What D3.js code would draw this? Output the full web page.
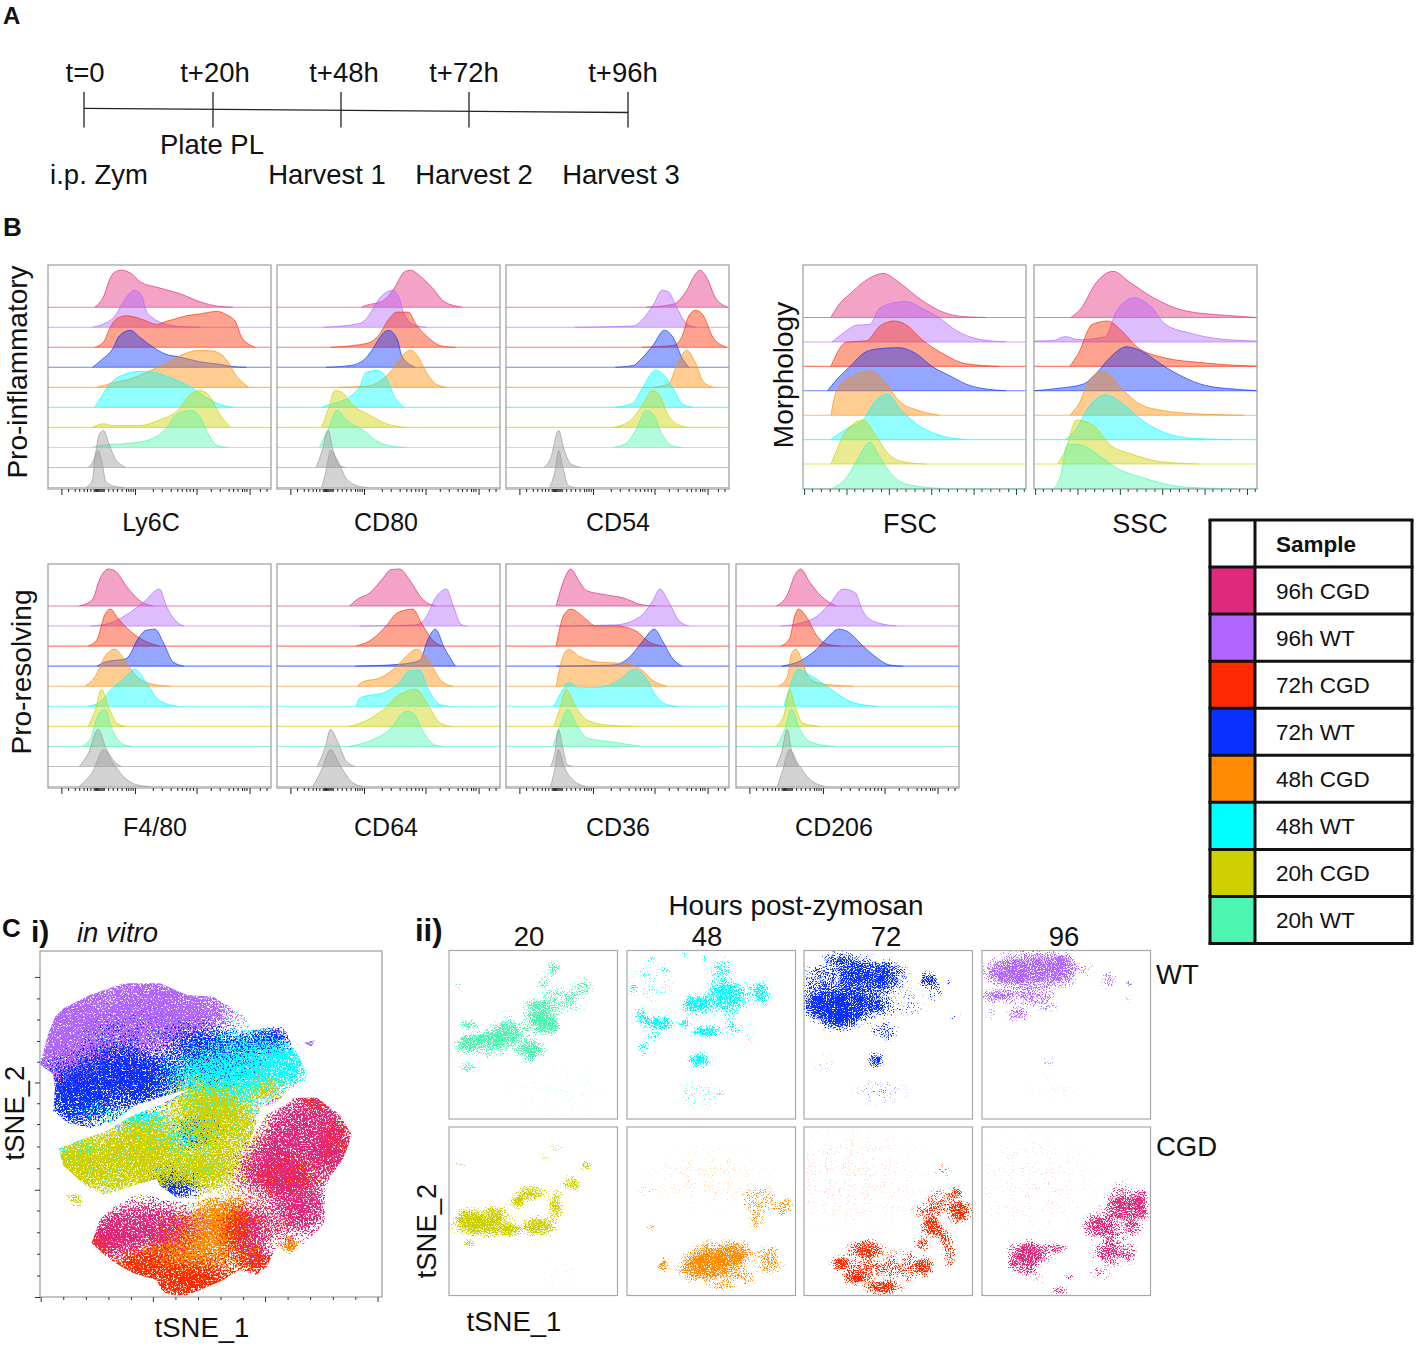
<!DOCTYPE html>
<html>
<head>
<meta charset="utf-8">
<title>Figure</title>
<script src="https://cdn.jsdelivr.net/npm/d3@7"></script>
<style>
  html, body { margin: 0; padding: 0; background: #fff; }
  text { font-family: "Liberation Sans", Arial, sans-serif; fill: #111; }
</style>
</head>
<body>
<div id="chart-area"></div>
<script>
// samples, top to bottom in the histograms
var samples = ["96h CGD", "96h WT", "72h CGD", "72h WT", "48h CGD", "48h WT", "20h CGD", "20h WT"];
var sampleColors = ["#e0297c", "#b266ff", "#ff2a00", "#0a30ff", "#ff8c00", "#00ffff", "#cfd000", "#4cf5b0"];
var controlColor = "#9a9a9a";

// timeline
var timeHours = [0, 20, 48, 72, 96];
var timeLabels = ["t=0", "t+20h", "t+48h", "t+72h", "t+96h"];

// axis ticks, in % of the panel width
var flowMajor = [6, 39, 66.6, 90.4];
var flowMinor = [9, 12, 14, 16, 17.5, 19, 20.5, 21, 21.5, 22, 22.5, 23, 23.5, 24, 24.5, 25, 27, 29, 31, 33, 35, 36, 37, 38,
    47, 51, 55, 58, 60, 62, 63.5, 65, 73, 77, 81, 83, 85, 87, 88, 89, 95, 98];
var morphMajor = [0.5, 19.5, 38.5, 57.5, 76.5, 95.5];
var morphMinor = [4, 8, 12, 16, 23, 27, 31, 35, 42, 46, 50, 54, 61, 65, 69, 73, 80, 84, 88, 92, 99];
var mapXMajor = [0.2, 33, 65.8, 98.7];
var mapXMinor = [6.8, 13.4, 20, 26.6, 39.6, 46.2, 52.8, 59.4, 72.4, 79, 85.6, 92.2];
var mapYMajor = [7.5, 38, 69, 100];
var mapYMinor = [13.7, 19.8, 26, 32, 44, 50, 56.5, 62.8, 75, 81.3, 87.5, 93.8];

// histograms: [channel %, count as % of mode], one list per sample plus two controls
var ly6c = [
    [[21,0],[25,30],[28,80],[30,95],[33,100],[38,88],[41,70],[50,52],[59,37],[68,15],[77,2],[83,0]],
    [[20,0],[26,12],[30,30],[33,60],[36,88],[39,100],[42,85],[44,45],[47,25],[52,10],[59,2],[68,0]],
    [[21,0],[25,15],[28,55],[31,78],[35,85],[41,78],[49,62],[53,70],[58,78],[62,85],[68,90],[76,97],[80,88],[84,70],[87,25],[93,0]],
    [[20,0],[24,20],[29,50],[32,85],[37,100],[41,82],[47,55],[53,35],[59,28],[68,15],[77,8],[83,2],[89,0]],
    [[22,0],[29,12],[38,25],[44,40],[53,65],[59,85],[68,100],[74,98],[80,75],[84,35],[90,0]],
    [[21,0],[24,30],[28,65],[36,92],[41,97],[47,95],[55,80],[64,55],[70,30],[77,8],[83,0]],
    [[20,0],[25,10],[29,5],[41,5],[50,20],[58,45],[64,90],[68,100],[72,88],[77,35],[82,0]],
    [[20,0],[23,5],[29,8],[38,12],[46,22],[52,45],[58,90],[64,100],[68,85],[72,35],[76,5],[81,0]],
    [[18,0],[21,30],[23,90],[25,100],[27,70],[30,25],[35,0]],
    [[17,0],[20,20],[21,80],[22.5,100],[24,75],[26,15],[30,3],[34,0]]
];
var cd80 = [
    [[38,0],[40,5],[47,15],[53,55],[57,95],[60,100],[64,85],[70,50],[75,15],[83,0]],
    [[21,0],[37,10],[41,30],[45,70],[47,85],[52,100],[55,75],[57,35],[62,5],[67,0]],
    [[24,0],[40,10],[46,35],[50,75],[54,95],[59,95],[62,65],[68,25],[74,3],[80,0]],
    [[22,0],[33,5],[39,20],[43,50],[46,80],[50,100],[54,75],[56,30],[62,0]],
    [[28,0],[40,3],[47,20],[52,50],[56,85],[60,100],[63,85],[67,40],[71,10],[76,0]],
    [[20,0],[25,10],[33,30],[37,55],[40,95],[45,100],[49,80],[53,25],[57,0]],
    [[20,0],[23,50],[26,100],[29,95],[34,60],[41,35],[49,10],[58,0]],
    [[19,0],[23,50],[27,100],[31,75],[39,45],[44,20],[52,3],[58,0]],
    [[17.5,0],[20,40],[23,100],[25,50],[28,5],[31,0]],
    [[20,0],[22,45],[24,100],[27,75],[31,25],[37,3],[41,0]]
];
var cd54 = [
    [[63,0],[75,8],[81,45],[85,90],[87,100],[90,80],[94,25],[99.5,0]],
    [[31,0],[57,3],[61,20],[66,60],[70,100],[73,95],[76,60],[81,10],[85,0]],
    [[61,0],[75,5],[79,30],[82,85],[85,100],[88,90],[93,25],[99,0]],
    [[49,0],[57,5],[61,25],[66,60],[71,100],[75,80],[79,25],[82,0]],
    [[66,0],[73,10],[76,50],[81,100],[85,65],[88.5,15],[93,0]],
    [[49,0],[57,12],[61,50],[67,100],[70,92],[75,50],[79,10],[84,0]],
    [[48,0],[55,15],[60,50],[66,100],[69,85],[73,30],[79,3],[82,0]],
    [[48,0],[54,12],[58,45],[63,100],[66,90],[70,35],[75,3],[79,0]],
    [[17,0],[20,25],[23.6,100],[26,50],[29,10],[34,0]],
    [[19.5,0],[22,45],[23.6,100],[25.5,55],[28,5],[31,0]]
];
var fsc = [
    [[12.5,0],[15.5,25],[22,58],[30,90],[36,100],[43.5,78],[52.5,42],[61.5,15],[70,3],[82,0]],
    [[13,0],[18,20],[24,38],[30,40],[34,75],[40,88],[46,92],[54,75],[61,55],[69,25],[79,6],[91,0]],
    [[12.5,0],[19.5,55],[28.5,58],[34.5,92],[41,103],[46,95],[53.5,60],[63,28],[73,6],[88,0]],
    [[11,0],[15,25],[22,60],[27,85],[33,95],[43,98],[50.5,85],[58,55],[65.5,35],[76,10],[91,0]],
    [[12.5,0],[15,55],[21,85],[30.5,100],[36,80],[43.5,30],[51,12],[61,0]],
    [[12.5,0],[19.5,25],[27,45],[32,85],[38,103],[43.5,70],[51,35],[60,12],[73,0]],
    [[12.5,0],[15,30],[18,65],[27,100],[32,70],[38,25],[45,5],[55,0]],
    [[13,0],[19.5,25],[24,62],[30,105],[34.5,70],[40.5,28],[48,8],[63,0]]
];
var ssc = [
    [[16.5,0],[21,20],[28,80],[35.5,105],[43,80],[53.5,45],[68,15],[86,5],[100,0]],
    [[0,2],[8.5,3],[14,12],[20.5,5],[32,12],[37,70],[45,100],[52.5,80],[59,40],[70,20],[83,7],[100,2]],
    [[16,0],[20,30],[26,95],[33,103],[39.5,80],[46,45],[58,20],[76,8],[100,0]],
    [[0,0],[11.5,6],[22,15],[28,40],[34,75],[41.5,100],[49,88],[56.5,62],[65.5,35],[77,12],[92,3],[100,0]],
    [[16,0],[20,25],[25,80],[31,100],[38.5,65],[46,30],[56,12],[77,2],[94,0]],
    [[14,0],[19,25],[24,70],[32,102],[39,85],[49,42],[59,15],[71,3],[89,0]],
    [[10.5,0],[14,30],[19,100],[26,90],[35,40],[42.5,25],[56,6],[74,0]],
    [[9,0],[12,30],[15,100],[19.5,100],[30.5,70],[36.5,48],[48.5,25],[68,3],[86,0]]
];
var f480 = [
    [[14,0],[20,18],[23,70],[27,100],[30,95],[35,55],[41,15],[47,0]],
    [[19,0],[28,8],[35,30],[43,65],[50,100],[53,55],[58,10],[61,0]],
    [[18,0],[22,18],[25.5,85],[28,100],[31,78],[37,40],[43,15],[50,0]],
    [[22,0],[26,12],[35,20],[41,80],[44,97],[48,100],[52,60],[56,12],[61,0]],
    [[16.5,0],[21,25],[26,85],[30,100],[35,65],[41,20],[49,3],[55,0]],
    [[18,0],[23,10],[29,50],[34,75],[39,100],[44,65],[50,15],[58,0]],
    [[18,0],[21,40],[24,100],[27,55],[31,8],[35,0]],
    [[15,0],[19,20],[22.5,85],[25.5,100],[28.5,50],[33,8],[37,0]],
    [[14,0],[18,35],[22.5,100],[26,50],[30,12],[33,0]],
    [[14,0],[20,40],[25,100],[29,65],[35,20],[41,3],[46,0]]
];
var cd64 = [
    [[32.5,0],[36,18],[41.5,35],[47.5,75],[51,98],[55,100],[59.5,70],[65,20],[71,0]],
    [[37,0],[62,3],[67,25],[71,75],[76,100],[79,55],[82.5,5],[85,0]],
    [[35.5,0],[43,20],[49,55],[54,90],[61,100],[64.5,65],[70,15],[74,0]],
    [[35,0],[55,5],[64,15],[67.5,70],[71,100],[75,50],[80,0]],
    [[36,0],[38.5,12],[46,22],[52,45],[57,75],[62.5,100],[68,70],[74,12],[79,0]],
    [[35.5,0],[37,22],[49,40],[55,65],[59,95],[64,98],[67.5,50],[73,5],[77,0]],
    [[32.5,0],[41.5,20],[47.5,45],[53.5,80],[62.5,100],[67,65],[73,10],[78,0]],
    [[32.5,0],[43,18],[50.5,45],[58,95],[61,90],[66,35],[71,3],[74,0]],
    [[18,0],[21.5,50],[24,100],[27,70],[31,15],[35,0]],
    [[16,0],[20,45],[24,100],[28,60],[34,10],[38.5,0]]
];
var cd36 = [
    [[22.5,0],[26,70],[29,100],[33,65],[36,42],[45,30],[52.5,22],[61,3],[67,0]],
    [[22.5,0],[49,3],[60,25],[66,70],[69,100],[73,65],[77.5,15],[82,0]],
    [[22.5,0],[26,85],[29,100],[36,72],[40,55],[49,55],[58,42],[64,12],[70,0]],
    [[22.5,0],[48,3],[55,22],[61,65],[66.5,100],[70,70],[74.5,22],[79,0]],
    [[22.5,0],[25,70],[28,100],[33,80],[42,65],[52,62],[60,48],[66,15],[72,0]],
    [[21.5,0],[25,40],[28,65],[33,50],[43,52],[51,72],[57.5,100],[63,75],[67,30],[73,3],[77,0]],
    [[21.5,0],[24,45],[27,100],[31,55],[37,15],[46,3],[57,0]],
    [[21,0],[24.5,60],[27.5,100],[32,55],[36.5,22],[48,12],[60,0]],
    [[20,0],[22,40],[23.5,100],[25.5,50],[27.5,5],[30,0]],
    [[20,0],[22,50],[23.5,100],[26,55],[30.5,15],[36,0]]
];
var cd206 = [
    [[18,0],[23,30],[26.5,85],[29,100],[33,65],[38.5,25],[45,0]],
    [[20,0],[29,8],[36,25],[42,60],[48,100],[53.5,90],[56.5,45],[62,12],[72,0]],
    [[20,0],[24,20],[26.5,85],[28,100],[32,75],[36,30],[41,5],[47,0]],
    [[20.5,0],[29,15],[36,45],[41.5,80],[46,100],[50.5,92],[56,60],[62,28],[69,3],[75,0]],
    [[19,0],[23,25],[25,90],[27,100],[29.5,70],[32.5,25],[39,6],[52.5,0]],
    [[21.5,0],[24,50],[28,100],[33,85],[39,62],[45,35],[52.5,10],[63,0]],
    [[18,0],[21.5,30],[24,100],[26.5,55],[30,8],[37.5,0]],
    [[18,0],[21.5,40],[25,100],[28,55],[32.5,15],[39,3],[44,0]],
    [[18,0],[20.5,40],[23,100],[25,40],[28,0]],
    [[18.5,0],[21,45],[24,100],[28,60],[33,20],[40,0]]
];

// tSNE density hot spots per sample: [tSNE_1 %, tSNE_2 %, spread x, spread y, density]
var d20wt = [[11,55,5,4,.9],[24,53,7,4,.9],[35,49,7,6,.9],[55,40,7,7,.9],[48,59,6,5,.85],[60,45,4,3,.8],[65,29,8,5,.5],[79,22,4,4,.6],[62,11,2.5,3,.7],[55,18,3,3,.5],[12,44,4,2,.7],[11,69,3,2,.7],[6,21,1.5,1,.6],[50,32,4,2,.6],[75,31,5,4,.3],[24,60,8,3,.4],[65,82,20,10,.05]];
var d20cgd = [[20,58,12,5,.95],[12,54,5,4,.9],[27,51,5,3,.85],[49,39.5,6,3,.85],[41,44,3,3,.85],[53,59,7,4,.95],[63.5,47,3,6,.8],[73,33.5,4,3,.75],[81,23,2,2,.7],[12,69,2,1.5,.8],[7,22,2,1,.5],[56,18,2,1,.4],[63,12,2.5,2,.3],[65,87,8,6,.08],[36,61,5,3,.8]];
var d48wt = [[41,32,6,4,.9],[59,27,9,7,.85],[56,11.5,4,5,.6],[79,25,4,5,.8],[47,48,6,2.5,.9],[43,65,4,3,.9],[18,43,7,3,.8],[8.5,39,3,3,.7],[34,43,2.5,2,.8],[62,43,4,5,.3],[15,5,2,1,.6],[23,11.5,2,1,.6],[34,3,1,1,.7],[46,5,1,1.5,.7],[3.5,22,1.5,1.5,.6],[9.5,14,1.5,1,.5],[9.5,57,2,4,.5],[17,51,3,2,.5],[43,85,10,6,.2],[13,19,10,8,.2],[55,85,2,.7,.6],[69,49,6,6,.12]];
var d48cgd = [[53,80,10,8,.95],[41,83,7,6,.8],[65,75,6,5,.75],[84,79,6,5,.6],[69,89,5,3,.5],[57,94,5,2,.5],[21.5,82,2.5,3,.7],[79,43.5,7,5,.45],[93,47.5,3.5,4,.5],[77,55,3,3,.55],[14.5,60,2,1,.4],[11,38,4,2,.2],[49,30,25,12,.08]];
var d72wt = [[25,31,18,8,.95],[21,40,8,5,.95],[11,33,7,5,.9],[37,15,13,7,.75],[19,5.5,6,3,.55],[9,17,6,6,.6],[49,15,8,6,.6],[27,11,8,6,.55],[74,17.5,4,3,.85],[43,33,3,2,.8],[48,48,5,4,.45],[43,65,3,3,.85],[60.5,31,8,6,.2],[78,25,3,4,.4],[86,19,.8,.8,.9],[91,40,3,1.5,.3],[45,84,10,5,.15],[11,67,5,4,.08]];
var d72cgd = [[37,73,7,4,.9],[22,81,4,3,.9],[31,89,6,3,.85],[47,95,7,3,.9],[37,83,8,4,.5],[57,83,10,6,.5],[71,83,4,4,.8],[76,59,4,4,.95],[92,50,4.5,5,.9],[90,39.5,3,2.5,.7],[80,45,5,5,.55],[82,65,3,3,.7],[70,69,3,3,.7],[86,75,2.5,6,.55],[72,51,5,4,.45],[27,30,30,20,.06],[82,26,3,4,.2]];
var d96wt = [[30,11.5,17,8,.85],[14.5,13.5,9,5,.8],[46,11.5,7,6,.65],[8.5,27,6,3,.7],[26,27,10,4,.55],[21.5,38,4,3,.7],[48,5.5,3,2,.6],[38,31,5,4,.35],[75,17.5,4,3,.5],[87,19.5,1.5,.8,.9],[60,11.5,5,4,.2],[85,29,2,2,.2],[5,37,2,3,.3],[40,66,4,2,.2],[42,82,12,6,.04]];
var d96cgd = [[28,75,8,5,.95],[44,72,4,2,.7],[26,84,5,3,.7],[84,47.5,8,7,.85],[70,59,7,5,.85],[94,44,3,5,.7],[95,51,3,3,.7],[89.5,59,4,4,.65],[76,75,7,5,.7],[78,65,5,4,.55],[87.5,75,3,4,.5],[70,87,4,3,.3],[34,90,2,2,.45],[46,97,3,1.5,.6],[52,89,2,1,.5],[18,81,2,2,.8],[30,34,25,20,.05],[82,34,3,3,.2]];

// overview map, same form, one list per sample colour
var mapGreen = [[48,62,6,4,.7],[11,58,6,4,.4],[62,36,8,6,.3],[20,62,14,6,.3],[52,48,9,6,.3]];
var mapCyan = [[56.5,35.6,14,8,.8],[70,32,7,5,.85],[30,49,6,3,.9],[38,55,9,4,.7],[11,57,5,3,.5],[51,47,8,6,.5],[50,38,10,5,.55],[22,64,10,5,.25],[60,23,6,5,.3],[16,47,5,3,.4]];
var mapPurple = [[23.4,19,19.5,9.8,.95],[8,24,9,9,.95],[37,16,10,8,.9],[8,34,8,5,.9],[48,17,6,5,.6],[78.5,26.6,3,1.5,.95],[68,24,4,2,.5],[20,34,12,7,.6],[56,18,5,4,.35]];
var mapBlue = [[17.5,39.5,14,8,.8],[11,43,6,6,.85],[32,37.5,10,5,.8],[47,30,9,7,.8],[67,26,5,3,.9],[55,31,8,6,.6],[39,67,6,4,.95],[46,52,5,4,.8],[25,33,8,5,.55],[62,29,6,4,.5],[30,24,10,6,.2],[20,26,8,5,.2]];
var mapYellow = [[20.5,61,14,8,.92],[10,62,5,4,.85],[30,55,8,5,.85],[47,46,10,7,.8],[55,51,8,7,.85],[49,63,8,6,.9],[66,40,4,3,.7],[10,72,2,1.5,.6],[35,62,8,5,.7]];
var mapOrange = [[47,84,11,8,.9],[37,88,7,4,.75],[53,77.5,6,5,.85],[73,85,2,2,.9],[62,88,3,3,.7],[60,72,5,5,.4]];
var mapRed = [[86,55,4,6,.85],[71,65,7,5,.9],[43,96,10,4,.95],[29,91,7,4,.9],[17.5,85,4,3,.9],[58.5,80.5,5,6,.8],[64,90,5,3,.8],[81,43,5,3,.8],[38,85,6,6,.4],[80,62,6,5,.35],[70,78,5,5,.4],[51,92,8,4,.5]];
var mapMagenta = [[78,51,11,8,.9],[66,63,8,6,.85],[76,73,7,8,.9],[30,79.5,13,6,.9],[22,83,5,4,.85],[63,82,5,8,.75],[84,60,5,5,.75],[70,57,6,4,.6]];

// overview map outlines, in axis %
var lobeUpper = [[0,32.7],[2.4,23.9],[4.4,19],[6.8,16.6],[14.6,12.7],[24.4,9.3],[35.1,9.3],[43,12.7],[50.7,13.2],[59.5,18.5],[61.9,22.9],[71.2,21.4],[74.1,27.8],[76.5,31.7],[78.5,37.1],[72,40.5],[69.7,43.4],[64.3,45.4],[62.4,52.2],[59.9,59],[55.5,66.8],[50.7,69.8],[46.8,71.7],[39.9,71.2],[35.1,67.8],[34.1,65.8],[27.3,67.8],[18.5,70.7],[12.7,67.3],[6.8,62],[5.4,57.1],[12.7,54.3],[19.5,52],[27.3,47.5],[35.1,44.6],[44.3,39.7],[34.1,42.6],[27.3,44.9],[21.4,49.5],[14.6,51.2],[8.3,49.8],[3.9,46.3],[4.4,39.5],[3.9,35.6]];
var lobeLower = [[74.1,42.4],[80.9,42.4],[87.7,47.3],[91.2,53.2],[88.7,60],[84.8,65.4],[83.3,69.8],[83.3,78.5],[79.9,82.4],[73.1,87.8],[69.2,85.4],[66.3,91.2],[63.4,93.7],[58.5,92.2],[53.6,95.1],[46.8,98],[41.9,99.8],[36.1,99],[34.1,95.1],[27.3,93.2],[20.5,89.3],[15.1,84.4],[17.5,77.6],[21.4,74.1],[29.2,69.8],[35.1,71.7],[42.9,72.7],[46.8,72.2],[51.7,69.8],[56.5,64.9],[60.4,58],[63.4,51.2],[66.3,47.3],[72.1,44.4]];
var patchLower = [[7.3,70.2],[11.7,70.2],[13.6,73.7],[10.2,74.4]];
var patchPurple = [[77,26.5],[80.4,25.8],[79.4,27.6]];

// legend rows are drawn from samples/sampleColors
var margin = {top: 0, right: 0, bottom: 0, left: 0};
var width = 1417;
var height = 1346;

var svg = d3.select("#chart-area")
    .append("svg")
    .attr("width", width + margin.left + margin.right)
    .attr("height", height + margin.top + margin.bottom)
    .style("display", "block");

var defs = svg.append("defs");

var g = svg.append("g")
    .attr("transform", "translate(" + margin.left + ", " + margin.top + ")");

function label(txt, x, y, size, opts) {
    opts = opts || {};
    var t = g.append("text")
        .attr("x", x)
        .attr("y", y)
        .attr("font-size", size + "px")
        .attr("text-anchor", opts.anchor || "middle")
        .attr("font-weight", opts.bold ? "bold" : "normal")
        .attr("font-style", opts.italic ? "italic" : "normal")
        .text(txt);
    if (opts.rotate) t.attr("transform", "rotate(-90 " + x + " " + y + ")");
    return t;
}

/* ---------- A timeline ---------- */
var timeX = d3.scaleLinear().domain(timeHours).range([84, 213, 341, 469, 628]);
var timeY = d3.scaleLinear().domain([0, 96]).range([108.3, 112.5]);

g.append("line")
    .attr("x1", timeX(0)).attr("x2", timeX(96))
    .attr("y1", timeY(0)).attr("y2", timeY(96))
    .attr("stroke", "#222").attr("stroke-width", 1.3);

g.selectAll(".time-tick").data(timeHours).enter().append("line")
    .attr("class", "time-tick")
    .attr("x1", function(d) { return timeX(d); })
    .attr("x2", function(d) { return timeX(d); })
    .attr("y1", 92).attr("y2", 127.5)
    .attr("stroke", "#222").attr("stroke-width", 1.3);

var timeLabelX = [85, 215, 344, 464, 623];
timeLabels.forEach(function(d, i) { label(d, timeLabelX[i], 82, 27.5); });

label("A", 3, 24, 24, {anchor: "start", bold: true});
label("Plate PL", 212, 154, 27.5);
label("i.p. Zym", 99, 184, 27.5);
label("Harvest 1", 327, 184, 27.5);
label("Harvest 2", 474, 184, 27.5);
label("Harvest 3", 621, 184, 27.5);
label("B", 3, 236, 26, {anchor: "start", bold: true});

/* ---------- B histograms ---------- */
function ridgePanel(rows, colors, box, firstBase, lastBase, modeHeight, major, minor, tickColor) {
    var p = g.append("g").attr("transform", "translate(" + box.x + "," + box.y + ")");
    var x = d3.scaleLinear().domain([0, 100]).range([0, box.w]);
    var base = d3.scaleLinear().domain([0, rows.length - 1]).range([firstBase, lastBase]);
    var y = d3.scaleLinear().domain([0, 100]).range([0, -modeHeight]);

    var area = d3.area()
        .x(function(d) { return x(d[0]); })
        .y0(0)
        .y1(function(d) { return y(d[1]); })
        .curve(d3.curveMonotoneX);
    var line = area.lineY1();

    var ridge = p.selectAll(".ridge").data(rows).enter().append("g")
        .attr("class", "ridge")
        .attr("transform", function(d, i) { return "translate(0," + base(i) + ")"; });

    ridge.append("path")
        .attr("d", area)
        .attr("fill", function(d, i) { return colors[i]; })
        .attr("fill-opacity", 0.43);
    ridge.append("path")
        .attr("d", line)
        .attr("fill", "none")
        .attr("stroke", function(d, i) { return colors[i]; })
        .attr("stroke-opacity", 0.75)
        .attr("stroke-width", 0.9);
    ridge.append("line")
        .attr("x1", 0).attr("x2", box.w)
        .attr("stroke", function(d, i) { return colors[i]; })
        .attr("stroke-opacity", 0.6)
        .attr("stroke-width", 1.1);

    p.append("rect")
        .attr("width", box.w).attr("height", box.h)
        .attr("fill", "none")
        .attr("stroke", "#9c9c9c").attr("stroke-width", 1.2);

    var minorAxis = d3.axisBottom(x).tickValues(minor).tickSize(3).tickFormat("");
    var majorAxis = d3.axisBottom(x).tickValues(major).tickSize(6).tickFormat("");
    [minorAxis, majorAxis].forEach(function(ax) {
        var a = p.append("g").attr("transform", "translate(0," + box.h + ")").call(ax);
        a.select(".domain").remove();
        a.selectAll("line").attr("stroke", tickColor).attr("stroke-width", 1);
    });
}

var flowColors = sampleColors.concat([controlColor, controlColor]);
var row1 = 265, row2 = 564, boxW = 223, boxH = 224;

[[ly6c, 48], [cd80, 277], [cd54, 506]].forEach(function(d) {
    ridgePanel(d[0], flowColors, {x: d[1], y: row1, w: boxW, h: boxH}, 42.2, 222.5, 37, flowMajor, flowMinor, "#222");
});
[[fsc, 803], [ssc, 1034]].forEach(function(d) {
    ridgePanel(d[0], sampleColors, {x: d[1], y: row1, w: boxW, h: boxH}, 52.5, 223.5, 44, morphMajor, morphMinor, "#14532d");
});
[[f480, 48], [cd64, 277], [cd36, 506], [cd206, 736]].forEach(function(d) {
    ridgePanel(d[0], flowColors, {x: d[1], y: row2, w: boxW, h: boxH}, 42, 222.5, 37, flowMajor, flowMinor, "#222");
});

label("Pro-inflammatory", 27, 372, 28, {rotate: true});
label("Pro-resolving", 31, 672, 28, {rotate: true});
label("Morphology", 793, 375, 28, {rotate: true});

label("Ly6C", 151, 531, 25);
label("CD80", 386, 531, 25);
label("CD54", 618, 531, 25);
label("FSC", 910, 533, 27);
label("SSC", 1140, 533, 27);
label("F4/80", 155, 836, 25);
label("CD64", 386, 836, 25);
label("CD36", 618, 836, 25);
label("CD206", 834, 836, 25);

/* ---------- legend table ---------- */
var legendTop = 520, legendBottom = 943.5;
var legendY = d3.scaleBand().domain(["header"].concat(samples)).range([legendTop, legendBottom]);
var legendX = [1210, 1255, 1412];

g.selectAll(".swatch").data(samples).enter().append("rect")
    .attr("class", "swatch")
    .attr("x", legendX[0])
    .attr("y", function(d) { return legendY(d); })
    .attr("width", legendX[1] - legendX[0])
    .attr("height", legendY.bandwidth())
    .attr("fill", function(d, i) { return sampleColors[i]; });

legendY.domain().forEach(function(d) {
    g.append("line")
        .attr("x1", legendX[0] - 1.5).attr("x2", legendX[2] + 1.5)
        .attr("y1", legendY(d)).attr("y2", legendY(d))
        .attr("stroke", "#111").attr("stroke-width", 3);
});
g.append("line")
    .attr("x1", legendX[0] - 1.5).attr("x2", legendX[2] + 1.5)
    .attr("y1", legendBottom).attr("y2", legendBottom)
    .attr("stroke", "#111").attr("stroke-width", 3);
legendX.forEach(function(d) {
    g.append("line")
        .attr("x1", d).attr("x2", d)
        .attr("y1", legendTop).attr("y2", legendBottom)
        .attr("stroke", "#111").attr("stroke-width", 3);
});

label("Sample", 1276, 552, 22.5, {anchor: "start", bold: true});
samples.forEach(function(d) {
    label(d, 1276, legendY(d) + 32, 22.5, {anchor: "start"});
});

/* ---------- C tSNE ---------- */
var filterCount = 0;

// soft falloff for each hot spot
var soft = defs.append("radialGradient").attr("id", "soft");
[[0, 1], [0.45, 0.8], [0.75, 0.35], [1, 0]].forEach(function(d) {
    soft.append("stop").attr("offset", d[0]).attr("stop-color", "#000").attr("stop-opacity", d[1]);
});

// speckles a density field: a dot shows where density + grain clears a threshold
function speckle(color, blur, grain, box) {
    filterCount += 1;
    var id = "speckle" + filterCount;
    var f = defs.append("filter")
        .attr("id", id)
        .attr("filterUnits", "userSpaceOnUse")
        .attr("x", box.x).attr("y", box.y)
        .attr("width", box.w).attr("height", box.h)
        .attr("color-interpolation-filters", "sRGB");
    f.append("feGaussianBlur").attr("in", "SourceAlpha").attr("stdDeviation", blur).attr("result", "field");
    f.append("feTurbulence")
        .attr("type", "fractalNoise")
        .attr("baseFrequency", grain)
        .attr("numOctaves", 2)
        .attr("seed", filterCount * 7)
        .attr("result", "noise");
    f.append("feColorMatrix")
        .attr("in", "noise")
        .attr("type", "matrix")
        .attr("values", "0 0 0 0 0  0 0 0 0 0  0 0 0 0 0  2.3 0 0 0 -0.65")
        .attr("result", "grainA");
    f.append("feComposite")
        .attr("in", "field").attr("in2", "grainA")
        .attr("operator", "arithmetic")
        .attr("k1", 0).attr("k2", 1).attr("k3", 1).attr("k4", -1)
        .attr("result", "sum");
    var steep = f.append("feComponentTransfer").attr("in", "sum").attr("result", "dots");
    steep.append("feFuncA").attr("type", "linear").attr("slope", 5).attr("intercept", 0);
    f.append("feFlood").attr("flood-color", color).attr("result", "ink");
    f.append("feComposite").attr("in", "ink").attr("in2", "dots").attr("operator", "in");
    return "url(#" + id + ")";
}

function densityLayer(parent, spots, color, x, y, sx, sy, blur, grain, box) {
    parent.append("g")
        .attr("filter", speckle(color, blur, grain, box))
        .selectAll("ellipse").data(spots).enter().append("ellipse")
        .attr("cx", function(d) { return x(d[0]); })
        .attr("cy", function(d) { return y(d[1]); })
        .attr("rx", function(d) { return sx(d[2]); })
        .attr("ry", function(d) { return sy(d[3]); })
        .attr("fill", "url(#soft)")
        .attr("fill-opacity", function(d) { return d[4]; });
}

// overview map
var mapBox = {x: 40, y: 951, w: 342, h: 346};
var mapX = d3.scaleLinear().domain([0, 100]).range([mapBox.x, mapBox.x + mapBox.w]);
var mapY = d3.scaleLinear().domain([0, 100]).range([mapBox.y, mapBox.y + mapBox.h]);
var mapSx = d3.scaleLinear().domain([0, 100]).range([0, mapBox.w * 1.75]);
var mapSy = d3.scaleLinear().domain([0, 100]).range([0, mapBox.h * 1.75]);

var outline = d3.line()
    .x(function(d) { return mapX(d[0]); })
    .y(function(d) { return mapY(d[1]); })
    .curve(d3.curveLinearClosed);

var clip = defs.append("clipPath").attr("id", "cloud");
[lobeUpper, lobeLower, patchLower, patchPurple].forEach(function(d) {
    clip.append("path").attr("d", outline(d));
});

var mapLayers = g.append("g").attr("clip-path", "url(#cloud)");
[[mapPurple, sampleColors[1]], [mapBlue, sampleColors[3]], [mapGreen, sampleColors[7]], [mapCyan, sampleColors[5]],
 [mapOrange, sampleColors[4]], [mapRed, sampleColors[2]], [mapMagenta, sampleColors[0]], [mapYellow, sampleColors[6]]
].forEach(function(d) {
    densityLayer(mapLayers, d[0], d[1], mapX, mapY, mapSx, mapSy, 1.5, 0.6, mapBox);
});

g.append("rect")
    .attr("x", mapBox.x).attr("y", mapBox.y)
    .attr("width", mapBox.w).attr("height", mapBox.h)
    .attr("fill", "none").attr("stroke", "#9c9c9c").attr("stroke-width", 1.2);

[[mapXMinor, 3], [mapXMajor, 5]].forEach(function(d) {
    var a = g.append("g")
        .attr("transform", "translate(0," + (mapBox.y + mapBox.h) + ")")
        .call(d3.axisBottom(mapX).tickValues(d[0]).tickSize(d[1]).tickFormat(""));
    a.select(".domain").remove();
    a.selectAll("line").attr("stroke", "#333");
});
[[mapYMinor, 3], [mapYMajor, 5]].forEach(function(d) {
    var a = g.append("g")
        .attr("transform", "translate(" + mapBox.x + ",0)")
        .call(d3.axisLeft(mapY).tickValues(d[0]).tickSize(d[1]).tickFormat(""));
    a.select(".domain").remove();
    a.selectAll("line").attr("stroke", "#333");
});

// small multiples
var smallCols = [449, 627, 804, 982];
var smallRows = [950.5, 1127];
var smallSize = 168.5;
var smallGrid = [
    [d20wt, d48wt, d72wt, d96wt],
    [d20cgd, d48cgd, d72cgd, d96cgd]
];
var smallColors = [
    [sampleColors[7], sampleColors[5], sampleColors[3], sampleColors[1]],
    [sampleColors[6], sampleColors[4], sampleColors[2], sampleColors[0]]
];

smallGrid.forEach(function(row, r) {
    row.forEach(function(spots, c) {
        var box = {x: smallCols[c], y: smallRows[r], w: smallSize, h: smallSize};
        var x = d3.scaleLinear().domain([0, 100]).range([box.x, box.x + box.w]);
        var y = d3.scaleLinear().domain([0, 100]).range([box.y, box.y + box.h]);
        var s = d3.scaleLinear().domain([0, 100]).range([0, box.w * 1.9]);
        densityLayer(g, spots, smallColors[r][c], x, y, s, s, 1.2, 0.95, box);
        g.append("rect")
            .attr("x", box.x).attr("y", box.y)
            .attr("width", box.w).attr("height", box.h)
            .attr("fill", "none").attr("stroke", "#a8a8a8").attr("stroke-width", 1.2);
    });
});

label("C", 2, 937, 26, {anchor: "start", bold: true});
label("i)", 31, 942, 30, {anchor: "start", bold: true});
label("in vitro", 77, 942, 27.5, {anchor: "start", italic: true});
label("ii)", 415, 941, 31, {anchor: "start", bold: true});
label("Hours post-zymosan", 796, 915, 27.8);
label("20", 529, 946, 27.5);
label("48", 707, 946, 27.5);
label("72", 886, 946, 27.5);
label("96", 1064, 946, 27.5);
label("WT", 1156, 984, 27.5, {anchor: "start"});
label("CGD", 1156, 1156, 27.5, {anchor: "start"});
label("tSNE_2", 24, 1113, 27.5, {rotate: true});
label("tSNE_1", 202, 1337, 27.5);
label("tSNE_2", 436, 1231, 27.5, {rotate: true});
label("tSNE_1", 514, 1331, 27.5);
</script>
</body>
</html>
